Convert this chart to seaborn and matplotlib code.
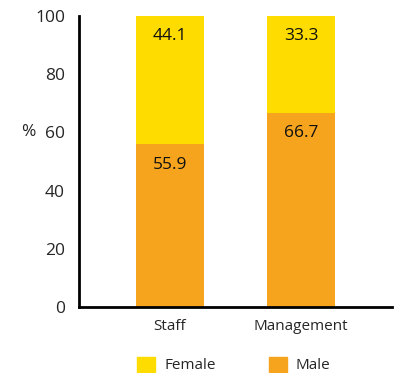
import matplotlib
matplotlib.use("Agg")
import matplotlib.pyplot as plt
import seaborn as sns
import pandas as pd
from matplotlib.patches import Patch

categories = ["Staff", "Management"]
male = [55.9, 66.7]
female = [44.1, 33.3]
yticks = [0, 20, 40, 60, 80, 100]

sns.set_style("white")
plt.rcParams["font.family"] = ["Open Sans", "DejaVu Sans"]

c_female = "#FFDC00"
c_male = "#F6A31E"

df = pd.DataFrame({"cat": categories, "male": male, "female": female})

fig = plt.figure(figsize=(3.99, 3.73), dpi=100)
ax = fig.add_axes([79/399, 1-307/373, (392-79)/399, (307-16)/373])

sns.barplot(data=df, x="cat", y="male", color=c_male, width=0.52, ax=ax,
            saturation=1, linewidth=0)
sns.barplot(data=df, x="cat", y="female", color=c_female, width=0.52, ax=ax,
            saturation=1, linewidth=0, bottom=df["male"])

for i, (m, f) in enumerate(zip(male, female)):
    ax.text(i, m - 7.0, f"{m:.1f}", ha="center", va="center", fontsize=12.5, color="#111111")
    ax.text(i, 100 - 7.0, f"{f:.1f}", ha="center", va="center", fontsize=12.5, color="#111111")

ax.set_xlim(-0.695, 1.695)
ax.set_ylim(0, 100)
ax.set_yticks(yticks)
ax.set_yticklabels([str(t) for t in yticks], fontsize=12.5)
ax.tick_params(axis="x", labelsize=11, length=0, pad=9)
ax.tick_params(axis="y", length=0, pad=10)
ax.set_xlabel("")
ax.set_ylabel("")
for s in ["top", "right"]:
    ax.spines[s].set_visible(False)
for s in ["left", "bottom"]:
    ax.spines[s].set_color("black")
    ax.spines[s].set_linewidth(2)

fig.text(28/399, 1-132/373, "%", ha="center", va="center", fontsize=12.5)

handles = [Patch(color=c_female, label="Female"), Patch(color=c_male, label="Male")]
fig.legend(handles=handles, loc="center", bbox_to_anchor=(234/399, 1-365/373), ncol=2,
           frameon=False, fontsize=11, handlelength=1.15, handleheight=1.15,
           columnspacing=3.5, handletextpad=0.6)

fig.savefig("out.png", dpi=100)
